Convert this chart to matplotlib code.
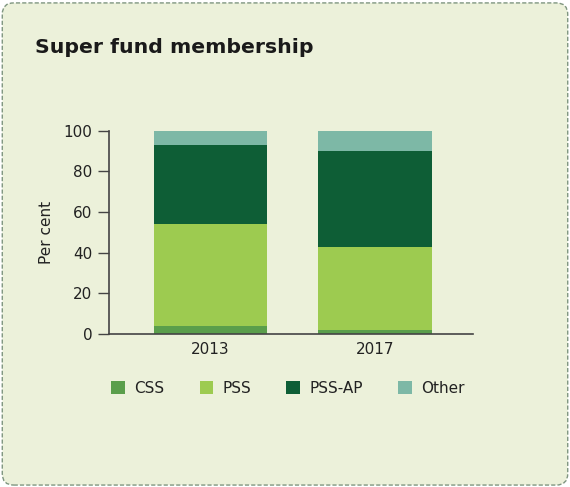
import matplotlib
matplotlib.use('Agg')
import matplotlib.pyplot as plt
from matplotlib.patches import FancyBboxPatch
import numpy as np

years = ['2013', '2017']
css = [4, 2]
pss = [50, 41]
pss_ap = [39, 47]
other = [7, 10]
series_names = ['CSS', 'PSS', 'PSS-AP', 'Other']
colors = ['#5a9e4b', '#9dcb50', '#0e5e36', '#7db8a6']

plt.rcParams['font.family'] = ['DejaVu Sans']
bg = '#ecf1da'

fig = plt.figure(figsize=(5.7, 4.87), dpi=100)
fig.patch.set_facecolor('white')

# rounded dashed panel, kept behind the axes
panel = FancyBboxPatch((0.004, 0.004), 0.992, 0.99,
                       boxstyle='round,pad=0,rounding_size=0.02',
                       transform=fig.transFigure, facecolor=bg,
                       edgecolor='#7f9680', linestyle=(0, (3, 1.5)), linewidth=1.0,
                       mutation_aspect=570 / 487, zorder=-5)
fig.patches.append(panel)

ax = fig.add_axes([0.1912, 0.3142, 0.8298 - 0.1912, 0.7316 - 0.3142])
ax.set_facecolor('none')

x = np.arange(len(years))
bottom = np.zeros(len(years))
for vals, name, c in zip([css, pss, pss_ap, other], series_names, colors):
    ax.bar(x, vals, width=0.69, bottom=bottom, color=c, label=name)
    bottom += np.array(vals)

ax.set_xlim(-0.616, 1.593)
ax.set_ylim(0, 100)
ax.set_yticks([0, 20, 40, 60, 80, 100])
ax.set_xticks(x)
ax.set_xticklabels(years)
for s in ['top', 'right']:
    ax.spines[s].set_visible(False)
for s in ['left', 'bottom']:
    ax.spines[s].set_color('#444444')
    ax.spines[s].set_linewidth(1.2)
ax.tick_params(axis='y', length=8, width=1, color='#444444', labelsize=11, pad=4,
               labelcolor='#222222')
ax.tick_params(axis='x', length=0, labelsize=11, pad=6, labelcolor='#222222')
ax.set_ylabel('Per cent', fontsize=11, labelpad=7, color='#222222')

fig.text(0.061, 0.902, 'Super fund membership', fontsize=14.7, fontweight='bold',
         color='#1a1a1a', va='center')

handles, labels = ax.get_legend_handles_labels()
fig.legend(handles, labels, loc='center', bbox_to_anchor=(0.505, 0.203), ncol=4,
           frameon=False, fontsize=11, handlelength=0.9, handleheight=0.9,
           handletextpad=0.6, columnspacing=2.3, labelcolor='#222222')

fig.savefig('out.png', dpi=100, facecolor='white')
